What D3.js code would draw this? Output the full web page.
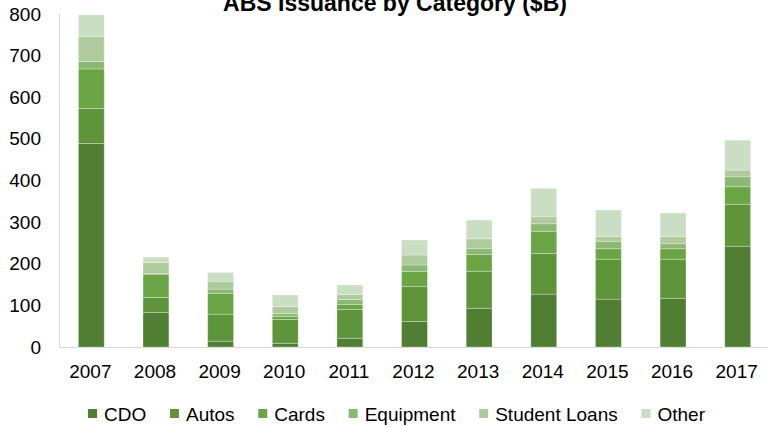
<!DOCTYPE html>
<html>
<head>
<meta charset="utf-8">
<script src="https://cdn.jsdelivr.net/npm/d3@7"></script>
<style>
  html, body { margin: 0; padding: 0; background: #fff; }
  svg { display: block; font-family: "Liberation Sans", Arial, sans-serif; }
</style>
</head>
<body>
<svg id="chart" width="768" height="427"></svg>
<script>
// ABS issuance by category, $B
const years = ["2007","2008","2009","2010","2011","2012","2013","2014","2015","2016","2017"];
const categories = ["CDO","Autos","Cards","Equipment","Student Loans","Other"];
const cdo          = [489, 83, 14,  9, 21, 61, 93, 127, 115, 117, 242];
const autos        = [ 84, 36, 65, 57, 69, 84, 89,  98,  96,  94, 101];
const cards        = [ 95, 56, 50,  7, 12, 36, 40,  53,  25,  25,  42];
const equipment    = [ 18,  1, 10,  7, 12, 16, 14,  18,  18,  12,  24];
const studentLoans = [ 60, 27, 19, 17, 12, 24, 24,  17,  11,  17,  16];
const other        = [ 52, 13, 21, 28, 23, 36, 45,  68,  64,  57,  72];
const yTicks = [0, 100, 200, 300, 400, 500, 600, 700, 800];
const colors = ["#507e33", "#5e943a", "#6ba545", "#8bb873", "#aecb9d", "#cadec3"];

const seriesValues = [cdo, autos, cards, equipment, studentLoans, other];
const rows = years.map((y, i) => {
  const r = { year: y };
  categories.forEach((c, k) => { r[c] = seriesValues[k][i]; });
  return r;
});

const svg = d3.select("#chart");
const x = d3.scaleBand().domain(years).range([59, 770]).paddingInner(0.6).paddingOuter(0.3);
const y = d3.scaleLinear().domain([0, 800]).range([347, 14]);
const color = d3.scaleOrdinal().domain(categories).range(colors);

// Title (sits partly above the canvas edge)
svg.append("text")
  .attr("x", 395).attr("y", 11)
  .attr("text-anchor", "middle")
  .attr("font-size", 23).attr("font-weight", "bold")
  .attr("fill", "#000")
  .text("ABS Issuance by Category ($B)");

// Axis lines
svg.append("line")
  .attr("x1", 59.5).attr("x2", 59.5).attr("y1", y(800)).attr("y2", y(0))
  .attr("stroke", "#d9d9d9").attr("stroke-width", 1);
svg.append("line")
  .attr("x1", 59).attr("x2", 768).attr("y1", y(0) + 0.5).attr("y2", y(0) + 0.5)
  .attr("stroke", "#d9d9d9").attr("stroke-width", 1);

// Y axis labels
const yAxis = d3.axisLeft(y).tickValues(yTicks).tickSize(0).tickPadding(0).tickFormat(d3.format("d"));
const yg = svg.append("g").attr("transform", "translate(41,0)").call(yAxis);
yg.select(".domain").remove();
yg.selectAll("text").attr("font-size", 19).attr("fill", "#000")
  .attr("font-family", "\"Liberation Sans\", Arial, sans-serif");

// X axis labels
const xAxis = d3.axisBottom(x).tickSize(0).tickPadding(0);
const xg = svg.append("g").attr("transform", "translate(-1,364)").call(xAxis);
xg.select(".domain").remove();
xg.selectAll("text").attr("font-size", 19).attr("fill", "#000")
  .attr("font-family", "\"Liberation Sans\", Arial, sans-serif");

// Stacked bars
const stacked = d3.stack().keys(categories)(rows);
svg.append("g").selectAll("g")
  .data(stacked)
  .join("g")
  .attr("fill", d => color(d.key))
  .selectAll("rect")
  .data(d => d)
  .join("rect")
  .attr("x", d => x(d.data.year))
  .attr("width", x.bandwidth())
  .attr("y", d => y(d[1]))
  .attr("height", d => y(d[0]) - y(d[1]))
  .attr("stroke", "rgba(255,255,255,0.35)")
  .attr("stroke-width", 0.8);

// Legend
const legend = svg.append("g");
const items = legend.selectAll("g").data(categories).join("g");
items.append("rect")
  .attr("width", 9).attr("height", 9).attr("y", 409)
  .attr("fill", d => color(d));
items.append("text")
  .attr("x", 16).attr("y", 421)
  .attr("font-size", 19).attr("fill", "#000")
  .text(d => d);
const gap = 23.7;
const widths = [];
items.each(function () {
  widths.push(16 + d3.select(this).select("text").node().getComputedTextLength());
});
const total = d3.sum(widths) + gap * (widths.length - 1);
let cx = 396.5 - total / 2;
items.each(function (d, i) {
  d3.select(this).attr("transform", `translate(${cx},0)`);
  cx += widths[i] + gap;
});
</script>
</body>
</html>
